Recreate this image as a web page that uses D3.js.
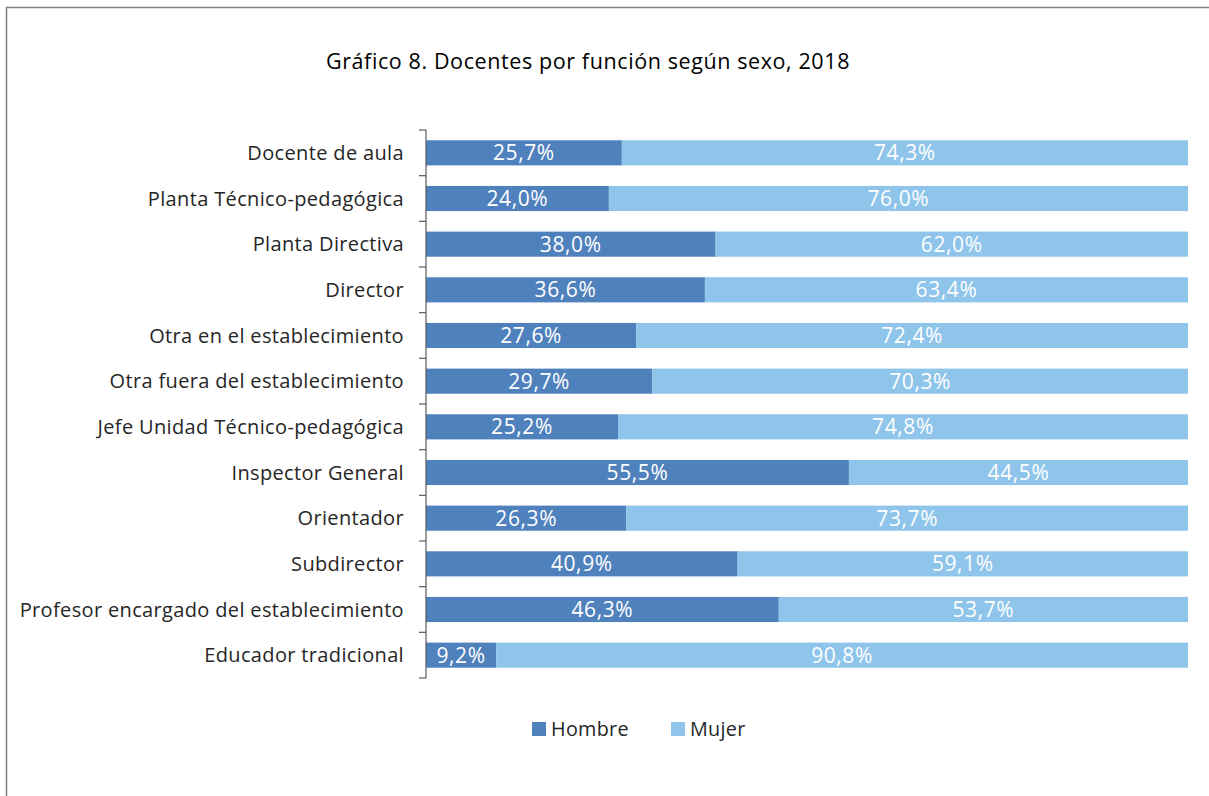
<!DOCTYPE html>
<html><head><meta charset="utf-8">
<script src="https://cdn.jsdelivr.net/npm/d3@7"></script>
<style>body{margin:0;background:#fff;} svg{display:block;font-family:"Open Sans","Noto Sans",sans-serif;}</style>
</head><body>
<svg id="c" width="1209" height="796"></svg>
<script>
const categories = ["Docente de aula","Planta Técnico-pedagógica","Planta Directiva","Director","Otra en el establecimiento","Otra fuera del establecimiento","Jefe Unidad Técnico-pedagógica","Inspector General","Orientador","Subdirector","Profesor encargado del establecimiento","Educador tradicional"];
const hombre = [25.7,24.0,38.0,36.6,27.6,29.7,25.2,55.5,26.3,40.9,46.3,9.2];
const mujer  = [74.3,76.0,62.0,63.4,72.4,70.3,74.8,44.5,73.7,59.1,53.7,90.8];
const seriesNames = ["Hombre","Mujer"];
const colors = ["#4f81bd","#8fc5ea"];
const title = "Gráfico 8. Docentes por función según sexo, 2018";

const svg = d3.select("#c");
svg.append("rect").attr("x",6.5).attr("y",7.5).attr("width",1220).attr("height",800)
  .attr("fill","none").attr("stroke","#7f7f7f").attr("stroke-width",1.5);

svg.append("text").attr("x",588).attr("y",69).attr("text-anchor","middle")
  .attr("font-size",21.5).attr("letter-spacing","0.6px").attr("fill","#000").text(title);

const x = d3.scaleLinear().domain([0,100]).range([426,1188]);
const y = d3.scaleBand().domain(categories).range([130,678]).paddingInner(0.45).paddingOuter(0.225);

const rows = categories.map((c,i)=>({c, vals:[hombre[i],mujer[i]]}));
const fmt = v => d3.format(".1f")(v).replace(".",",")+"%";

rows.forEach(r=>{
  let acc=0;
  r.vals.forEach((v,k)=>{
    const x0=x(acc), x1=x(acc+v);
    svg.append("rect").attr("x",x0).attr("y",y(r.c)).attr("width",x1-x0).attr("height",y.bandwidth())
      .attr("fill",colors[k]);
    svg.append("text").attr("x",(x0+x1)/2).attr("y",y(r.c)+y.bandwidth()/2).attr("dy","0.36em")
      .attr("text-anchor","middle").attr("fill","#fff").attr("font-size",21).attr("letter-spacing","0.6px").text(fmt(v));
    acc+=v;
  });
});

// axis
const step = (678-130)/categories.length;
const g = svg.append("g").attr("stroke","#595959").attr("stroke-width",1.2);
g.append("line").attr("x1",426).attr("x2",426).attr("y1",130).attr("y2",678);
d3.range(categories.length+1).forEach(i=>{
  g.append("line").attr("x1",419).attr("x2",426).attr("y1",130+i*step).attr("y2",130+i*step);
});
categories.forEach(c=>{
  svg.append("text").attr("x",404).attr("y",y(c)+y.bandwidth()/2).attr("dy","0.36em")
    .attr("text-anchor","end").attr("font-size",20).attr("letter-spacing","0.35px").attr("fill","#262626").text(c);
});

// legend
const lx=[532,671];
seriesNames.forEach((n,k)=>{
  svg.append("rect").attr("x",lx[k]).attr("y",722).attr("width",14).attr("height",14).attr("fill",colors[k]);
  svg.append("text").attr("x",lx[k]+19).attr("y",729).attr("dy","0.36em").attr("font-size",19.8).attr("letter-spacing","0.3px").attr("fill","#262626").text(n);
});
</script>
</body></html>
